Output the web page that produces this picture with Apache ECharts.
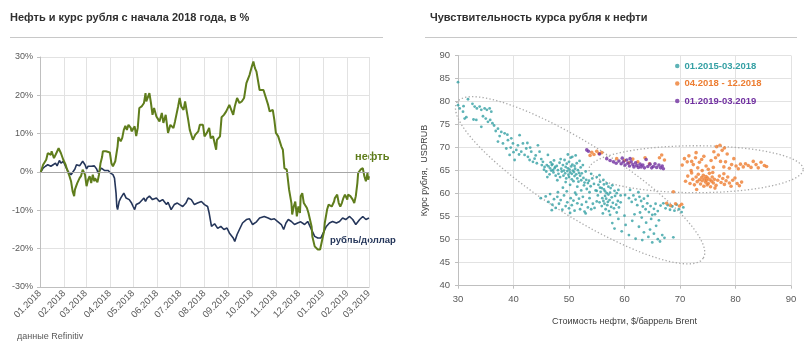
<!DOCTYPE html>
<html>
<head>
<meta charset="utf-8">
<script src="https://cdn.jsdelivr.net/npm/echarts@6/dist/echarts.min.js"></script>
<style>
  html, body { margin: 0; padding: 0; background: #ffffff; }
  #chart { width: 805px; height: 347px; }
</style>
</head>
<body>
<div id="chart"></div>
<script>
// ---- Left panel: Brent and ruble since the start of 2018, % change ----
const oilPoints = [
  ['2018-01-02', 0.0], ['2018-01-05', 1.9], ['2018-01-09', 3.2], ['2018-01-11', 4.9], ['2018-01-15', 4.5],
  ['2018-01-16', 5.4], ['2018-01-19', 3.6], ['2018-01-22', 4.9], ['2018-01-25', 6.2], ['2018-01-28', 4.9],
  ['2018-01-31', 3.2], ['2018-02-03', 1.9], ['2018-02-05', 0.6], ['2018-02-08', -1.1], ['2018-02-10', -2.4],
  ['2018-02-12', -5.0], ['2018-02-14', -6.3], ['2018-02-15', -4.6], ['2018-02-18', -2.9], ['2018-02-21', -1.6],
  ['2018-02-23', -1.0], ['2018-02-25', 0.6], ['2018-02-28', -0.7], ['2018-03-02', -3.7], ['2018-03-04', -2.0],
  ['2018-03-06', -1.1], ['2018-03-08', -2.9], ['2018-03-10', -0.7], ['2018-03-12', -2.4], ['2018-03-13', -1.6],
  ['2018-03-16', -2.7], ['2018-03-18', -0.7], ['2018-03-20', 2.3], ['2018-03-22', 3.9], ['2018-03-23', 5.4],
  ['2018-03-27', 5.4], ['2018-04-01', 5.1], ['2018-04-03', 2.3], ['2018-04-05', 1.5], ['2018-04-08', 2.8],
  ['2018-04-11', 6.7], ['2018-04-12', 9.1], ['2018-04-15', 8.0], ['2018-04-17', 8.9], ['2018-04-19', 11.0],
  ['2018-04-21', 12.0], ['2018-04-23', 11.0], ['2018-04-25', 12.3], ['2018-04-28', 11.5], ['2018-04-29', 10.6],
  ['2018-05-03', 11.9], ['2018-05-05', 9.4], ['2018-05-07', 11.5], ['2018-05-09', 16.7], ['2018-05-12', 17.1],
  ['2018-05-15', 18.0], ['2018-05-17', 20.6], ['2018-05-18', 18.4], ['2018-05-20', 18.8], ['2018-05-22', 20.6],
  ['2018-05-24', 18.0], ['2018-05-26', 14.9], ['2018-05-28', 16.7], ['2018-05-31', 14.5], ['2018-06-04', 13.2],
  ['2018-06-07', 15.4], ['2018-06-09', 12.8], ['2018-06-12', 14.9], ['2018-06-15', 10.2], ['2018-06-18', 12.3],
  ['2018-06-22', 11.5], ['2018-06-24', 13.2], ['2018-06-28', 17.1], ['2018-06-30', 19.3], ['2018-07-02', 17.1],
  ['2018-07-05', 16.2], ['2018-07-07', 18.4], ['2018-07-09', 18.4], ['2018-07-11', 13.6], ['2018-07-13', 11.0],
  ['2018-07-15', 10.6], ['2018-07-17', 8.4], ['2018-07-20', 9.7], ['2018-07-24', 10.6], ['2018-07-26', 12.3],
  ['2018-07-30', 12.3], ['2018-08-01', 9.3], ['2018-08-04', 10.2], ['2018-08-07', 11.5], ['2018-08-09', 8.8],
  ['2018-08-12', 9.3], ['2018-08-16', 5.8], ['2018-08-17', 8.4], ['2018-08-21', 9.3], ['2018-08-23', 14.3],
  ['2018-08-26', 14.9], ['2018-08-29', 15.8], ['2018-09-02', 17.5], ['2018-09-04', 17.0], ['2018-09-07', 14.9],
  ['2018-09-09', 17.1], ['2018-09-12', 19.3], ['2018-09-15', 18.0], ['2018-09-18', 18.4], ['2018-09-21', 19.3],
  ['2018-09-24', 23.2], ['2018-09-26', 23.6], ['2018-09-28', 25.3], ['2018-10-01', 27.5], ['2018-10-03', 28.8],
  ['2018-10-05', 27.1], ['2018-10-07', 26.2], ['2018-10-09', 25.8], ['2018-10-11', 21.4], ['2018-10-13', 21.0],
  ['2018-10-16', 21.4], ['2018-10-18', 20.1], ['2018-10-20', 19.7], ['2018-10-22', 17.5], ['2018-10-24', 15.8],
  ['2018-10-28', 16.2], ['2018-10-30', 13.6], ['2018-11-01', 10.2], ['2018-11-04', 9.3], ['2018-11-06', 8.0],
  ['2018-11-08', 6.7], ['2018-11-10', 5.8], ['2018-11-12', 1.0], ['2018-11-15', 0.6], ['2018-11-16', -1.1],
  ['2018-11-18', -4.6], ['2018-11-21', -8.1], ['2018-11-22', -11.1], ['2018-11-24', -9.0], ['2018-11-26', -7.7],
  ['2018-11-28', -11.6], ['2018-11-30', -9.0], ['2018-12-02', -10.7], ['2018-12-03', -6.3], ['2018-12-05', -5.5],
  ['2018-12-07', -8.1], ['2018-12-09', -7.7], ['2018-12-11', -9.4], ['2018-12-13', -10.7], ['2018-12-15', -11.1],
  ['2018-12-17', -14.2], ['2018-12-18', -16.8], ['2018-12-21', -19.4], ['2018-12-23', -19.8], ['2018-12-25', -20.2],
  ['2018-12-28', -20.2], ['2018-12-30', -19.8], ['2019-01-02', -15.5], ['2019-01-03', -13.3], ['2019-01-06', -9.8],
  ['2019-01-08', -8.5], ['2019-01-10', -8.1], ['2019-01-12', -9.0], ['2019-01-15', -7.7], ['2019-01-16', -6.8],
  ['2019-01-19', -5.9], ['2019-01-21', -8.1], ['2019-01-23', -9.0], ['2019-01-25', -8.1], ['2019-01-27', -6.8],
  ['2019-01-29', -5.9], ['2019-02-01', -7.2], ['2019-02-02', -5.9], ['2019-02-05', -6.3], ['2019-02-08', -7.2],
  ['2019-02-10', -8.1], ['2019-02-12', -6.3], ['2019-02-14', -2.9], ['2019-02-15', -0.3], ['2019-02-18', 0.6],
  ['2019-02-21', 1.0], ['2019-02-23', -1.1], ['2019-02-25', -2.4], ['2019-02-27', -0.3], ['2019-02-28', -2.0],
  ['2019-03-01', -1.1]
];

const rublePoints = [
  ['2018-01-02', 0.0], ['2018-01-05', 1.0], ['2018-01-08', 1.5], ['2018-01-11', 1.9], ['2018-01-15', 1.5],
  ['2018-01-18', 1.9], ['2018-01-21', 2.3], ['2018-01-23', 1.6], ['2018-01-26', 3.0], ['2018-01-28', 2.3],
  ['2018-01-31', 2.8], ['2018-02-02', 1.9], ['2018-02-04', 1.0], ['2018-02-06', 0.2], ['2018-02-08', -0.3],
  ['2018-02-10', -0.7], ['2018-02-12', -0.5], ['2018-02-15', 0.8], ['2018-02-17', 1.9], ['2018-02-19', 2.2],
  ['2018-02-21', 1.6], ['2018-02-23', 1.9], ['2018-02-25', 2.8], ['2018-02-28', 1.9], ['2018-03-02', 0.8],
  ['2018-03-04', 1.5], ['2018-03-06', 1.4], ['2018-03-08', 1.5], ['2018-03-10', 1.0], ['2018-03-12', 1.6],
  ['2018-03-15', 0.8], ['2018-03-17', -0.3], ['2018-03-19', 0.4], ['2018-03-21', 1.0], ['2018-03-23', 0.8],
  ['2018-03-25', 0.4], ['2018-03-27', 0.2], ['2018-03-30', 0.4], ['2018-04-02', -0.3], ['2018-04-04', 0.0],
  ['2018-04-05', -0.7], ['2018-04-07', -1.6], ['2018-04-09', -5.5], ['2018-04-10', -9.0], ['2018-04-11', -9.8],
  ['2018-04-13', -7.7], ['2018-04-15', -6.8], ['2018-04-17', -7.2], ['2018-04-19', -5.5], ['2018-04-22', -6.8],
  ['2018-04-24', -6.3], ['2018-04-26', -7.2], ['2018-04-29', -8.1], ['2018-05-01', -9.0], ['2018-05-03', -9.8],
  ['2018-05-05', -8.5], ['2018-05-07', -9.0], ['2018-05-09', -8.1], ['2018-05-11', -8.3], ['2018-05-15', -6.8],
  ['2018-05-17', -7.7], ['2018-05-19', -6.8], ['2018-05-22', -6.3], ['2018-05-24', -5.9], ['2018-05-26', -7.2],
  ['2018-05-31', -6.8], ['2018-06-04', -7.7], ['2018-06-08', -7.2], ['2018-06-13', -8.5], ['2018-06-15', -7.9],
  ['2018-06-19', -9.8], ['2018-06-23', -8.5], ['2018-06-27', -8.1], ['2018-06-30', -8.5], ['2018-07-04', -9.0],
  ['2018-07-08', -8.1], ['2018-07-11', -6.8], ['2018-07-15', -7.2], ['2018-07-19', -8.5], ['2018-07-23', -8.1],
  ['2018-07-28', -7.7], ['2018-08-01', -8.5], ['2018-08-05', -9.0], ['2018-08-07', -10.7], ['2018-08-10', -14.2],
  ['2018-08-14', -13.5], ['2018-08-18', -14.7], ['2018-08-22', -14.2], ['2018-08-26', -15.0], ['2018-08-30', -14.6],
  ['2018-09-02', -15.9], ['2018-09-07', -17.2], ['2018-09-09', -18.1], ['2018-09-12', -16.3], ['2018-09-15', -15.0],
  ['2018-09-19', -13.3], ['2018-09-24', -12.4], ['2018-09-28', -12.2], ['2018-10-02', -13.7], ['2018-10-07', -13.0],
  ['2018-10-11', -12.0], ['2018-10-13', -12.4], ['2018-10-17', -11.6], ['2018-10-22', -12.0], ['2018-10-26', -12.4],
  ['2018-10-30', -12.2], ['2018-11-03', -12.9], ['2018-11-08', -13.7], ['2018-11-11', -15.0], ['2018-11-14', -13.3],
  ['2018-11-17', -12.4], ['2018-11-21', -12.9], ['2018-11-25', -13.7], ['2018-11-29', -13.3], ['2018-12-03', -13.0],
  ['2018-12-08', -13.7], ['2018-12-12', -12.9], ['2018-12-15', -14.2], ['2018-12-18', -15.5], ['2018-12-21', -16.8],
  ['2018-12-25', -17.2], ['2018-12-29', -17.2], ['2019-01-02', -15.5], ['2019-01-05', -14.2], ['2019-01-09', -13.3],
  ['2019-01-13', -12.9], ['2019-01-18', -13.3], ['2019-01-22', -12.9], ['2019-01-26', -12.0], ['2019-01-30', -12.4],
  ['2019-02-04', -11.6], ['2019-02-08', -12.4], ['2019-02-12', -13.7], ['2019-02-17', -12.4], ['2019-02-21', -11.6],
  ['2019-02-25', -12.4], ['2019-03-01', -12.0]
];

const pctTicks = { min: -30, max: 30, step: 10 };

// ---- Right panel: USDRUB against Brent ($/bbl), three periods ----
const period2015to2018 = [
  [30.0,84.2],[30.0,79.2],[30.3,78.5],[30.9,77.8],[31.2,76.3],[31.8,80.5],[32.6,79.5],[33.0,78.9],[33.4,78.5],[33.9,78.9],
  [34.2,78.2],[34.8,78.5],[35.2,78.2],[35.7,78.5],[36.0,77.8],[35.0,76.3],[35.4,75.6],[35.8,76.0],[36.2,75.3],[34.2,74.5],
  [33.3,76.0],[32.8,76.1],[31.5,76.6],[34.5,76.8],[31.0,79.0],[36.5,74.8],[36.8,73.6],[37.2,74.1],
  [37.2,71.3],[37.8,73.4],[38.1,70.9],[38.4,73.1],[38.7,69.8],[39.0,71.6],[39.3,68.4],[39.6,72.0],[39.9,70.9],[40.2,67.3],
  [40.5,69.5],[40.8,70.5],[41.1,72.7],[41.4,69.1],[41.7,70.9],[42.0,68.4],[42.3,69.8],[42.6,68.0],[42.9,67.3],[43.2,69.1],
  [43.5,66.9],[43.8,67.6],[44.2,66.6],[44.4,70.5],[44.7,69.1],[45.1,66.2],[45.3,66.9],[45.6,65.8],[46.0,66.2],[46.2,68.4],
  [46.6,65.5],[46.9,66.2],[47.1,65.1],[47.5,65.8],[37.5,72.5],[38.9,72.8],[40.0,69.0],[41.0,68.5],[42.5,71.0],[43.0,70.0],
  [39.5,70.0],[44.0,68.3],[45.0,67.5],
  [45.5,65.2],[45.9,64.8],[46.3,65.9],[46.5,64.2],[46.8,65.0],[47.0,66.4],[47.2,64.6],[47.4,65.5],[47.6,63.9],[47.8,66.0],
  [48.0,65.1],[48.1,64.3],[48.3,66.7],[48.4,63.6],[48.6,65.4],[48.7,64.8],[48.9,66.2],[49.0,63.9],[49.1,65.0],[49.2,67.3],
  [49.3,64.4],[49.4,65.8],[49.5,63.3],[49.6,66.5],[49.7,64.9],[49.8,65.5],[49.9,64.1],[50.0,66.9],[50.0,63.6],[50.1,65.2],
  [50.2,64.6],[50.3,67.8],[50.4,65.9],[50.5,63.1],[50.5,64.3],[50.6,66.3],[50.7,65.0],[50.8,62.7],[50.9,64.7],[51.0,66.0],
  [51.0,63.8],[51.1,65.4],[51.2,68.3],[51.3,64.2],[51.4,66.6],[51.5,63.3],[51.6,65.1],[51.7,62.6],[51.8,64.5],[51.9,67.1],
  [52.0,63.9],[52.1,65.7],[52.2,62.9],[52.3,64.4],[52.5,66.2],[52.6,63.4],[52.8,62.4],[53.0,64.8],[53.1,63.0],[48.5,67.5],
  [49.8,68.5],[50.6,68.0],[47.3,67.2],[46.1,63.6],[47.9,62.9],[49.4,62.5],[50.2,61.9],[51.5,61.5],[52.7,61.8],[53.4,62.3],
  [46.7,66.8],[48.9,61.3],
  [53.2,61.0],[53.6,62.8],[53.9,61.6],[54.2,63.3],[54.5,62.1],[54.8,60.7],[55.0,63.6],[55.3,61.9],[55.6,62.6],[55.9,61.2],
  [56.2,63.0],[56.5,60.5],[56.8,62.2],[57.1,61.5],[57.4,60.2],[57.8,61.8],[58.2,60.6],[58.6,60.1],[54.0,64.3],[55.5,64.0],
  [58.9,60.8],[59.3,59.6],[53.7,60.3],
  [45.8,59.4],[46.3,58.2],[46.6,59.9],[47.0,57.6],[47.3,58.8],[47.6,56.9],[47.9,59.3],[48.2,57.8],[48.5,58.6],[48.8,56.5],
  [49.1,59.6],[49.4,57.3],[49.7,58.1],[50.0,56.8],[50.3,59.0],[50.5,57.5],[50.8,58.5],[51.0,56.3],[51.3,59.8],[51.5,57.9],
  [51.8,58.9],[52.0,56.6],[52.3,57.6],[52.5,59.3],[52.8,56.1],[53.1,58.2],[53.4,57.0],[53.7,59.0],[54.0,56.6],[54.3,57.8],
  [44.9,59.0],[46.9,56.4],[48.0,60.3],[49.6,60.5],[51.1,60.2],[52.2,60.7],[50.2,55.8],[53.0,55.7],[54.6,56.9],[55.0,58.3],
  [55.2,59.6],[55.5,58.1],[55.7,60.4],[55.9,57.3],[56.0,59.0],[56.2,58.4],[56.3,60.9],[56.4,57.8],[56.5,59.5],[56.6,56.6],
  [56.7,58.9],[56.8,60.1],[56.9,57.5],[57.0,58.2],[57.1,59.8],[57.2,56.2],[57.3,58.6],[57.5,61.2],[57.6,57.1],[57.7,59.2],
  [57.9,58.0],[58.1,56.8],[58.3,59.5],[58.5,57.6],[58.8,58.4],[59.0,57.0],[55.6,61.3],[56.1,55.7],[57.4,55.4],[58.6,55.9],
  [56.3,62.0],[55.0,60.6],[59.3,58.1],
  [60.8,59.0],[61.3,58.2],[61.6,59.6],[62.0,58.7],[62.3,57.5],[62.7,59.3],[63.0,58.4],[63.3,57.2],[63.5,58.9],[63.8,56.6],
  [64.1,57.9],[64.4,56.0],[64.7,57.3],[65.0,55.4],[65.3,56.7],[65.6,57.8],[66.0,56.2],[66.5,57.4],[67.0,57.9],[67.4,56.8],
  [67.8,57.5],[68.2,56.5],[68.6,57.2],[69.0,56.3],[69.4,57.6],[69.8,56.6],[70.3,56.0],[70.6,57.0],[62.5,60.3],[64.2,59.5],
  [61.0,60.8],[60.1,59.7],
  [57.8,53.6],[58.2,52.4],[58.9,54.5],[59.5,51.8],[60.2,53.2],[60.8,51.0],[61.4,54.1],[62.0,50.2],[62.6,52.8],[63.1,54.8],
  [63.5,51.6],[63.9,53.7],[64.3,50.6],[64.6,52.2],[65.0,49.4],[65.3,51.3],[65.7,53.0],[66.0,50.1],[66.4,49.6],[66.8,51.0],
  [67.2,50.4],[64.8,54.5],[63.2,49.9],[68.8,50.5],[60.0,55.2],[61.8,55.5],[62.8,55.9],[66.2,54.2],[65.5,55.5]
];

const period2018 = [
  [54.1,69.0],[54.5,68.5],[55.0,69.2],[55.4,68.7],[55.9,68.9],[53.8,68.3],
  [58.6,67.6],[60.0,67.2],[60.8,66.7],[61.5,67.5],[62.4,66.9],[63.7,67.8],[66.3,67.8],[66.7,68.4],[67.2,67.3],[64.5,66.5],
  [70.8,67.6],[71.3,66.9],[71.6,68.2],[72.1,67.0],[72.4,66.3],[72.8,67.8],[73.2,65.6],[73.5,66.8],[73.9,67.4],[74.3,68.1],
  [74.7,66.0],[75.1,65.3],[75.6,67.2],[76.1,69.1],[76.4,67.8],[76.6,70.2],[76.9,68.4],[77.3,67.0],[77.6,69.4],[77.9,65.8],
  [78.2,66.9],[78.5,68.6],[78.9,65.5],[79.3,66.3],[79.7,67.6],[80.1,66.0],[80.5,65.4],[80.9,66.4],[81.4,65.8],[81.8,66.5],
  [82.3,66.1],[82.8,65.7],[83.2,67.0],[83.7,66.3],[84.1,65.6],[84.6,66.8],[85.2,66.1],[85.6,65.9],[74.0,65.0],[76.0,65.7],
  [77.2,70.5],[78.0,69.9],[70.4,66.2],[72.9,68.9],
  [71.0,62.7],[71.4,63.8],[71.8,62.2],[72.1,64.5],[72.3,63.1],[72.6,61.9],[72.9,63.6],[73.1,62.6],[73.3,64.2],[73.5,63.0],
  [73.7,62.1],[73.9,63.5],[74.0,62.8],[74.2,64.0],[74.3,61.6],[74.4,63.2],[74.6,62.5],[74.7,63.7],[74.8,62.9],[74.9,61.9],
  [75.0,63.4],[75.1,62.2],[75.3,64.4],[75.4,63.0],[75.5,61.5],[75.7,62.7],[75.8,63.6],[76.0,62.3],[76.2,63.1],[76.5,61.8],
  [76.8,62.9],[77.1,63.8],[77.4,62.4],[77.7,63.3],[78.0,62.0],[78.3,62.8],[78.6,63.6],[78.9,62.3],[79.2,61.6],[79.5,62.9],
  [79.9,63.4],[80.3,62.2],[80.7,61.7],[81.1,62.5],[73.0,60.9],[76.3,61.2],[72.0,65.0],[75.9,64.6],[77.9,64.3],
  [68.8,60.4],[67.6,57.9],[68.3,57.4],[69.2,57.8],[69.9,57.3],[70.3,57.7]
];

const period2019 = [
  [53.2,69.5],[53.5,69.2],[55.5,68.6],[56.8,67.6],[57.4,67.2],[58.0,66.9],[58.5,66.6],[59.0,67.1],[59.4,66.5],[59.8,66.9],
  [60.1,66.2],[60.4,67.3],[60.6,66.6],[60.9,66.0],[61.2,66.9],[61.5,66.3],[61.7,65.8],[62.0,66.7],[62.2,66.1],[62.5,65.7],
  [62.8,66.4],[63.0,65.8],[63.3,66.2],[63.6,65.6],[64.2,65.9],[64.6,66.4],[64.9,65.6],[65.2,65.9],[65.5,66.5],[65.8,65.7],
  [66.2,66.2],[66.5,65.6],[66.8,66.0],[67.0,65.4],[63.9,67.4],[61.0,67.6],[59.6,67.7]
];

// Dotted regime outlines: centre, end of one semi-axis, end of the conjugate semi-axis (data units)
const regimeOutlines = [
  [52.0, 62.9, 74.2, 46.0, 55.45, 69.55],
  [72.9, 65.3, 92.2, 65.3, 72.9, 70.4]
];

const seriesNames = ['01.2015-03.2018', '04.2018 - 12.2018', '01.2019-03.2019'];
const seriesColors = ['#35a0a4', '#ed7d31', '#7030a0'];

// ---- Build the daily date axis for the left panel ----
const days = [];
(function () {
  const d = new Date(Date.UTC(2018, 0, 1));
  const end = Date.UTC(2019, 2, 1);
  while (d.getTime() <= end) {
    days.push(d.toISOString().slice(0, 10));
    d.setUTCDate(d.getUTCDate() + 1);
  }
})();
const isMonthStart = (i, v) => v.slice(8) === '01';

const FONT = '"Liberation Sans", Arial, sans-serif';
const GRID_C = '#e2e2e2';
const AXIS_C = '#bfbfbf';
const LABEL_C = '#595959';

const chart = echarts.init(document.getElementById('chart'), null, { renderer: 'canvas' });

chart.setOption({
  animation: false,
  backgroundColor: '#ffffff',
  textStyle: { fontFamily: FONT },
  title: [
    { text: 'Нефть и курс рубля с начала 2018 года, в %', left: 10, top: 12, padding: 0,
      textStyle: { fontSize: 11, fontWeight: 'bold', color: '#303030', fontFamily: FONT } },
    { text: 'Чувствительность курса рубля к нефти', left: 430, top: 12, padding: 0,
      textStyle: { fontSize: 11, fontWeight: 'bold', color: '#303030', fontFamily: FONT } }
  ],
  legend: {
    orient: 'vertical', left: 675, top: 61, itemGap: 7.5, itemWidth: 4.5, itemHeight: 4.5,
    icon: 'circle', padding: 0, selectedMode: false,
    data: seriesNames.map((n, i) => ({ name: n, textStyle: { color: seriesColors[i] } })),
    textStyle: { fontSize: 9.5, fontWeight: 'bold', fontFamily: FONT, padding: [0, 0, 0, 0] }
  },
  grid: [
    { left: 40, right: 436, top: 57, bottom: 60 },
    { left: 458, right: 14, top: 55.5, bottom: 61.3 }
  ],
  xAxis: [
    {
      type: 'category', gridIndex: 0, data: days, boundaryGap: false,
      axisLine: { show: true, onZero: false, lineStyle: { color: AXIS_C } },
      axisTick: { show: false },
      axisLabel: { interval: isMonthStart, rotate: 45, fontSize: 9.5, color: LABEL_C, margin: 5,
        formatter: v => v.slice(5, 7) + '.' + v.slice(0, 4) },
      splitLine: { show: true, interval: isMonthStart, lineStyle: { color: GRID_C } }
    },
    {
      type: 'value', gridIndex: 1, min: 30, max: 90, interval: 10,
      name: 'Стоимость нефти, $/баррель Brent', nameLocation: 'middle', nameGap: 31,
      nameTextStyle: { fontSize: 9, color: '#404040' },
      axisLine: { show: true, lineStyle: { color: AXIS_C } },
      axisTick: { show: true, length: 3, lineStyle: { color: AXIS_C } },
      axisLabel: { fontSize: 9.5, color: LABEL_C, margin: 9 },
      splitLine: { show: true, lineStyle: { color: GRID_C } }
    }
  ],
  yAxis: [
    {
      type: 'value', gridIndex: 0, min: pctTicks.min, max: pctTicks.max, interval: pctTicks.step,
      axisLine: { show: true, lineStyle: { color: AXIS_C } },
      axisTick: { show: true, length: 3, lineStyle: { color: AXIS_C } },
      axisLabel: { formatter: '{value}%', fontSize: 9, color: LABEL_C, margin: 7 },
      splitLine: { show: true, lineStyle: { color: GRID_C } }
    },
    {
      type: 'value', gridIndex: 1, min: 40, max: 90, interval: 5,
      name: 'Курс рубля,  USDRUB', nameLocation: 'middle', nameGap: 29, nameRotate: 90,
      nameTextStyle: { fontSize: 9, color: '#404040' },
      axisLine: { show: true, lineStyle: { color: AXIS_C } },
      axisTick: { show: true, length: 3, lineStyle: { color: AXIS_C } },
      axisLabel: { fontSize: 9.5, color: LABEL_C, margin: 8 },
      splitLine: { show: true, lineStyle: { color: GRID_C } }
    }
  ],
  series: [
    {
      name: 'рубль/доллар', type: 'line', xAxisIndex: 0, yAxisIndex: 0,
      data: rublePoints, showSymbol: false, z: 3,
      lineStyle: { color: '#25365a', width: 1.6 },
      markLine: {
        silent: true, symbol: 'none', label: { show: false },
        lineStyle: { color: '#a6a6a6', type: 'solid', width: 1 },
        data: [{ yAxis: 0 }]
      }
    },
    {
      name: 'нефть', type: 'line', xAxisIndex: 0, yAxisIndex: 0,
      data: oilPoints, showSymbol: false, z: 4,
      lineStyle: { color: '#5f7d1c', width: 2 }
    },
    {
      type: 'custom', xAxisIndex: 1, yAxisIndex: 1, data: regimeOutlines, clip: false, z: 1, silent: true,
      encode: { x: 0, y: 1 },
      renderItem: function (params, api) {
        const c = api.coord([api.value(0), api.value(1)]);
        const a = api.coord([api.value(2), api.value(3)]);
        const b = api.coord([api.value(4), api.value(5)]);
        const pts = [];
        for (let k = 0; k < 120; k++) {
          const t = (k / 120) * Math.PI * 2;
          pts.push([
            c[0] + Math.cos(t) * (a[0] - c[0]) + Math.sin(t) * (b[0] - c[0]),
            c[1] + Math.cos(t) * (a[1] - c[1]) + Math.sin(t) * (b[1] - c[1])
          ]);
        }
        return {
          type: 'polygon', shape: { points: pts },
          style: { fill: null, stroke: '#a9a9a9', lineWidth: 1.3, lineDash: [1.3, 2.2] }
        };
      }
    },
    {
      name: seriesNames[0], type: 'scatter', xAxisIndex: 1, yAxisIndex: 1,
      data: period2015to2018, symbolSize: 2.8, itemStyle: { color: seriesColors[0] }, z: 2
    },
    {
      name: seriesNames[1], type: 'scatter', xAxisIndex: 1, yAxisIndex: 1,
      data: period2018, symbolSize: 3.6, itemStyle: { color: seriesColors[1] }, z: 3
    },
    {
      name: seriesNames[2], type: 'scatter', xAxisIndex: 1, yAxisIndex: 1,
      data: period2019, symbolSize: 3.6, itemStyle: { color: seriesColors[2] }, z: 4
    }
  ],
  graphic: [
    { type: 'line', shape: { x1: 10, y1: 37.5, x2: 383, y2: 37.5 }, style: { stroke: '#c8c8c8', lineWidth: 1 } },
    { type: 'line', shape: { x1: 425, y1: 37.5, x2: 797, y2: 37.5 }, style: { stroke: '#c8c8c8', lineWidth: 1 } },
    { type: 'text', left: 355, top: 151,
      style: { text: 'нефть', fill: '#5f7d1c', font: 'bold 11px ' + FONT } },
    { type: 'text', left: 330, top: 235,
      style: { text: 'рубль/доллар', fill: '#25365a', font: 'bold 9.5px ' + FONT } },
    { type: 'text', left: 17, top: 332,
      style: { text: 'данные Refinitiv', fill: '#595959', font: '9px ' + FONT } }
  ]
});
</script>
</body>
</html>
